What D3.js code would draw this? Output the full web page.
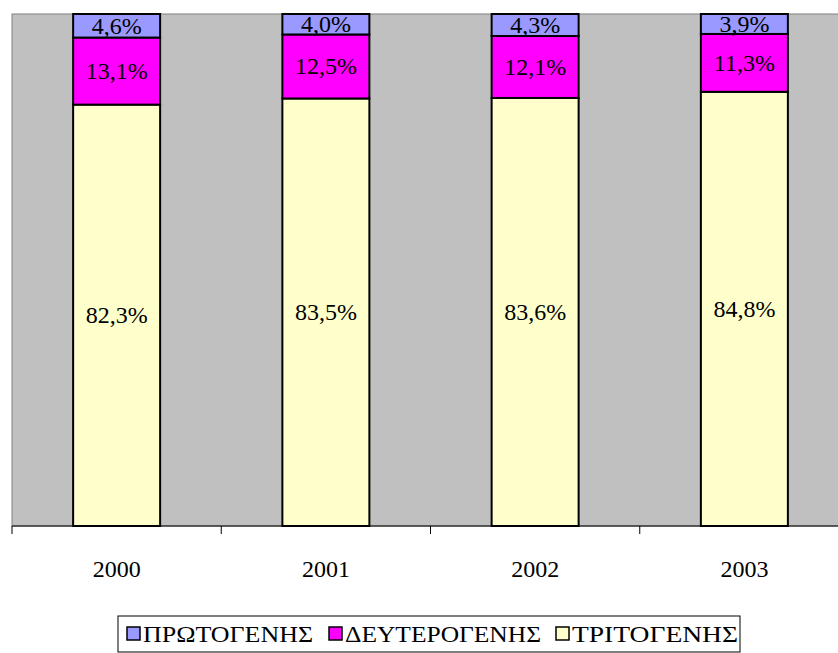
<!DOCTYPE html>
<html lang="el">
<head>
<meta charset="UTF-8">
<title>Stacked bars</title>
<script src="https://d3js.org/d3.v7.min.js"></script>
<style>
  body { margin: 0; background: #fff; }
  svg { display: block; }
  svg text { font-family: "Liberation Serif", "Times New Roman", Times, serif; }
</style>
</head>
<body>
<svg width="838" height="653"></svg>
<script>
// data
var years = ["2000", "2001", "2002", "2003"];
var seriesNames = ["ΠΡΩΤΟΓΕΝΗΣ", "ΔΕΥΤΕΡΟΓΕΝΗΣ", "ΤΡΙΤΟΓΕΝΗΣ"];
var primary   = [4.6, 4.0, 4.3, 3.9];
var secondary = [13.1, 12.5, 12.1, 11.3];
var tertiary  = [82.3, 83.5, 83.6, 84.8];
var colors = ["#9999ff", "#ff00ff", "#ffffcc"];

var svg = d3.select("svg");
var plotLeft = 12, plotTop = 14, plotBottom = 526, plotRight = 849;

var rows = years.map(function(y, i) {
  return { year: y, p: primary[i], s: secondary[i], t: tertiary[i] };
});

var x = d3.scaleBand().domain(years).range([plotLeft, plotRight]).paddingInner(0).paddingOuter(0);
var y = d3.scaleLinear().domain([0, 100]).range([plotBottom, plotTop]);

// plot area
svg.append("rect")
  .attr("x", plotLeft).attr("y", plotTop)
  .attr("width", plotRight - plotLeft).attr("height", plotBottom - plotTop)
  .attr("fill", "#c0c0c0")
  .attr("stroke", "#808080").attr("stroke-width", 1);

// stack: tertiary at bottom, then secondary, then primary on top
var stack = d3.stack().keys(["t", "s", "p"]);
var layers = stack(rows);
var colorByKey = { p: colors[0], s: colors[1], t: colors[2] };

var barW = 87;
layers.forEach(function(layer) {
  svg.append("g").selectAll("rect").data(layer).enter().append("rect")
    .attr("x", function(d) { return x(d.data.year) + x.bandwidth() / 2 - barW / 2; })
    .attr("y", function(d) { return y(d[1]); })
    .attr("width", barW)
    .attr("height", function(d) { return y(d[0]) - y(d[1]); })
    .attr("fill", colorByKey[layer.key])
    .attr("stroke", "#000").attr("stroke-width", 2);
});
layers.forEach(function(layer) {
  svg.append("g").selectAll("text").data(layer).enter().append("text")
    .attr("x", function(d) { return x(d.data.year) + x.bandwidth() / 2; })
    .attr("y", function(d) { return (y(d[0]) + y(d[1])) / 2 + 8; })
    .attr("text-anchor", "middle")
    .attr("font-size", 24)
    .text(function(d) { return (d[1] - d[0]).toFixed(1).replace(".", ",") + "%"; });
});

// x axis
var ax = svg.append("g").attr("transform", "translate(0," + plotBottom + ")");
ax.append("line").attr("x1", plotLeft).attr("x2", plotRight).attr("y1", 0).attr("y2", 0)
  .attr("stroke", "#000").attr("stroke-width", 1);
ax.selectAll(".tk").data(years).enter().append("line")
  .attr("x1", function(d) { return x(d); }).attr("x2", function(d) { return x(d); })
  .attr("y1", 0).attr("y2", 8).attr("stroke", "#000");
ax.selectAll(".lbl").data(years).enter().append("text")
  .attr("x", function(d) { return x(d) + x.bandwidth() / 2; })
  .attr("y", 51)
  .attr("text-anchor", "middle")
  .attr("font-size", 24)
  .text(function(d) { return d; });

// legend
var lg = svg.append("g");
lg.append("rect").attr("x", 118).attr("y", 616).attr("width", 622).attr("height", 36)
  .attr("fill", "#fff").attr("stroke", "#000").attr("stroke-width", 1);
var legendX = [127, 329, 556];
var legendW = [170, 196, 166];
seriesNames.forEach(function(name, i) {
  lg.append("rect").attr("x", legendX[i]).attr("y", 627).attr("width", 13).attr("height", 13)
    .attr("fill", colors[i]).attr("stroke", "#000").attr("stroke-width", 1.5);
  lg.append("text").attr("x", legendX[i] + 16).attr("y", 642)
    .attr("font-size", 23)
    .attr("textLength", legendW[i]).attr("lengthAdjust", "spacingAndGlyphs")
    .text(name);
});
</script>
</body>
</html>
